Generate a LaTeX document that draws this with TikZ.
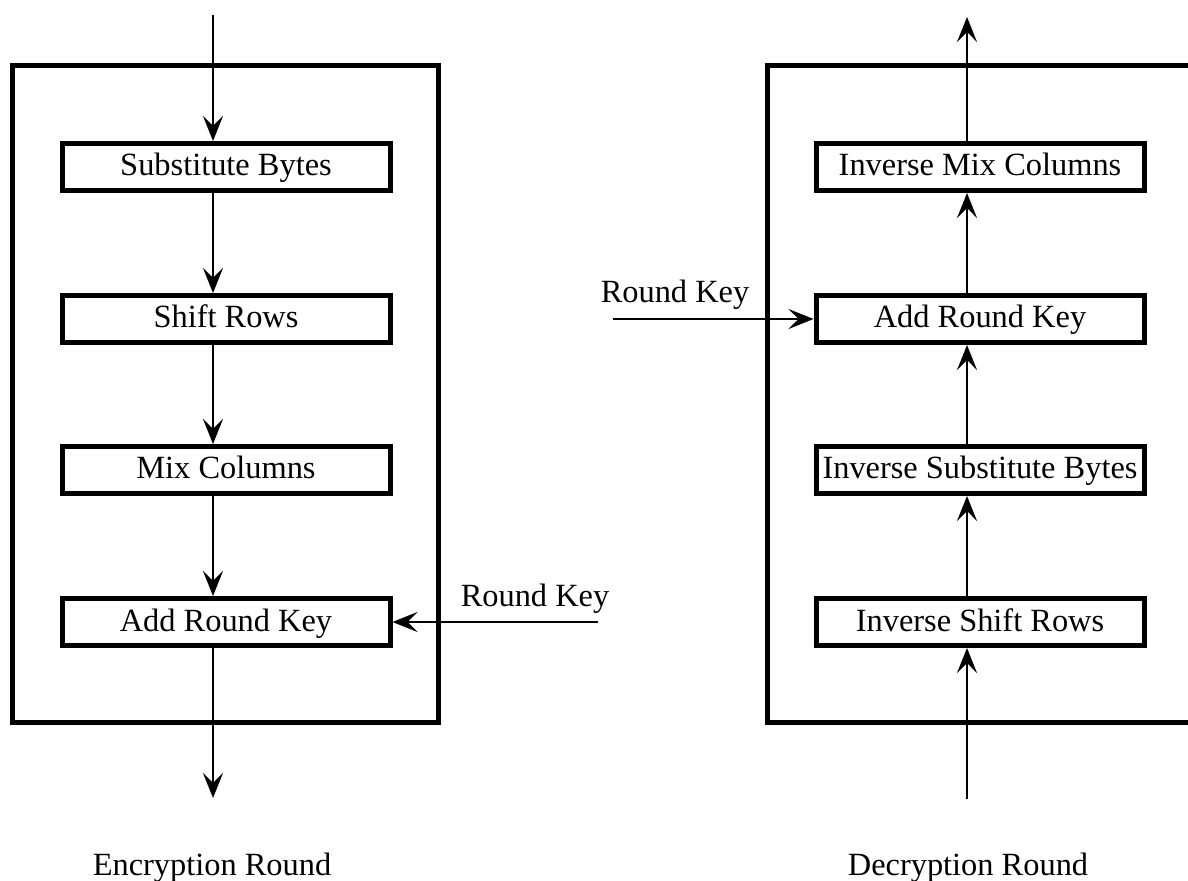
\documentclass[tikz,border=0pt]{standalone}
\usepackage{fontspec}
\setmainfont{Liberation Serif}
\usetikzlibrary{arrows.meta}

\begin{document}
\begin{tikzpicture}[x=0.5pt, y=-0.5pt,
    every node/.style={font=\fontsize{16.2}{19}\selectfont},
    stagebox/.style={draw, line width=2.5pt, minimum width=164pt, minimum height=23.5pt,
      inner sep=0pt, text height=9pt, text depth=0pt},
    frame/.style={line width=2.5pt},
    flow/.style={line width=0.75pt, -{Stealth[length=12.5pt, width=10pt, inset=5pt]}}]

      \useasboundingbox (0,0) rectangle (1188,881);

      \draw[frame] (12.5,66) rectangle (438.5,722);
      \draw[frame] (767.5,66) rectangle (1200,722);

      \coordinate (enc) at (213,0);
      \coordinate (dec) at (967,0);

      \node[stagebox] (sub) at (226,167) {Substitute Bytes};
      \node[stagebox] (shift) at (226,319) {Shift Rows};
      \node[stagebox] (mix) at (226,470) {Mix Columns};
      \node[stagebox] (addkey) at (226,622) {Add Round Key};

      \node[stagebox] (imix) at (980,167) {Inverse Mix Columns};
      \node[stagebox] (iadd) at (980,319) {Add Round Key};
      \node[stagebox] (isub) at (980,470) {Inverse Substitute Bytes};
      \node[stagebox] (ishift) at (980,622) {Inverse Shift Rows};

      \coordinate (encin) at (213,15);
      \coordinate (encout) at (213,798);
      \coordinate (decin) at (967,799);
      \coordinate (decout) at (967,17);
      \coordinate (keyin) at (598,622);
      \coordinate (ikeyin) at (613,319);

      \draw[flow] (encin) -- (sub.north -| enc);
      \draw[flow] (sub.south -| enc) -- (shift.north -| enc);
      \draw[flow] (shift.south -| enc) -- (mix.north -| enc);
      \draw[flow] (mix.south -| enc) -- (addkey.north -| enc);
      \draw[flow] (addkey.south -| enc) -- (encout);
      \draw[flow] (keyin) -- (addkey.east);

      \draw[flow] (decin) -- (ishift.south -| dec);
      \draw[flow] (ishift.north -| dec) -- (isub.south -| dec);
      \draw[flow] (isub.north -| dec) -- (iadd.south -| dec);
      \draw[flow] (iadd.north -| dec) -- (imix.south -| dec);
      \draw[flow] (imix.north -| dec) -- (decout);
      \draw[flow] (ikeyin) -- (iadd.west);

      \node[anchor=base] (keylbl) at (535,606) {Round Key};
      \node[anchor=base] (ikeylbl) at (675,303) {Round Key};

      \node[anchor=base] (enccap) at (212,875) {Encryption Round};
      \node[anchor=base] (deccap) at (968,875) {Decryption Round};

    \end{tikzpicture}
\end{document}
